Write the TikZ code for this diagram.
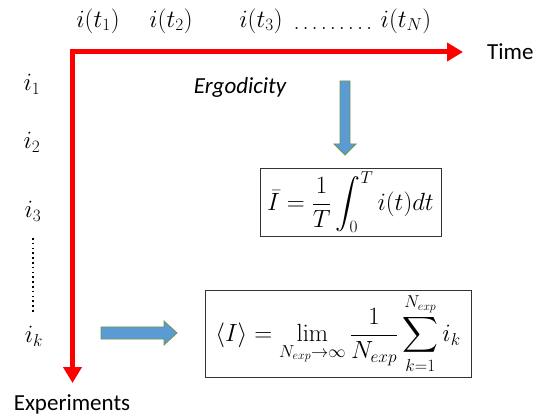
\documentclass[tikz,border=0pt]{standalone}
\usepackage{amsmath}
\usepackage[no-math]{fontspec}
\setmainfont{Carlito}
\usetikzlibrary{arrows.meta}
\begin{document}
\begin{tikzpicture}[x=1pt,y=-1pt,
  mathlbl/.style={inner sep=0pt,font=\fontsize{26}{30}\selectfont},
  txtlbl/.style={inner sep=0pt,font=\fontsize{23}{27}\selectfont},
  formbox/.style={draw=black!80,line width=0.9pt,inner sep=2pt,font=\fontsize{24}{28}\selectfont},
  axis/.style={red,line width=5pt,line join=miter,{Triangle[width=18pt,length=16pt]}-{Triangle[width=18pt,length=16pt]}},
  blockarrow/.style={fill={rgb,255:red,91;green,155;blue,213},draw={rgb,255:red,112;green,150;blue,70},line width=0.8pt,line join=miter}
]
\useasboundingbox (0,0) rectangle (535,419);
% axes
\coordinate (origin) at (72.5,52);
\coordinate (tend) at (463,52);
\coordinate (eend) at (72.5,383);
\draw[axis] (eend) -- (origin) -- (tend);
\node[txtlbl,anchor=west] (time) at (487,52) {Time};
\node[txtlbl] (exp) at (72,404) {Experiments};
% top labels
\node[mathlbl] (t1) at (98,21) {$i(t_1)$};
\node[mathlbl] (t2) at (171,21) {$i(t_2)$};
\node[mathlbl] (t3) at (261,21) {$i(t_3)$};
\node[mathlbl,font=\fontsize{20}{24}\selectfont,anchor=base] (tdots) at (333,30) {$\ldots\ldots\ldots$};
\node[mathlbl] (tN) at (406,21) {$i(t_N)$};
% left labels
\node[mathlbl] (i1) at (32,84) {$i_1$};
\node[mathlbl] (i2) at (32,142) {$i_2$};
\node[mathlbl] (i3) at (33,211) {$i_3$};
\coordinate (dtop) at (33,238);
\coordinate (dbot) at (33,313);
\draw[line width=1.6pt,dash pattern=on 1.6pt off 3.2pt,line cap=butt] (dtop) -- (dbot);
\node[mathlbl] (ik) at (34,336) {$i_k$};
% ergodicity
\node[txtlbl,font=\fontsize{23}{27}\selectfont\itshape] (erg) at (240,87) {Ergodicity};
% formula boxes
\node[formbox,minimum width=181pt,minimum height=68pt] (box1) at (350.5,202)
  {$\displaystyle \bar{I} = \frac{1}{T}\int_0^T i(t)dt$};
\node[formbox,minimum width=266pt,minimum height=87pt] (box2) at (338,333.5)
  {$\displaystyle \langle I\rangle = \lim_{N_{exp}\to\infty}\frac{1}{N_{exp}}\sum_{k=1}^{N_{exp}} i_k$};
% block arrows
\coordinate (dtip) at (345,155);
\draw[blockarrow] (340,81) -- (350,81) -- (350,144) -- (356,144) -- (dtip) -- (334,144) -- (340,144) -- cycle;
\coordinate (rtip) at (177,333);
\draw[blockarrow] (101,327) -- (164,327) -- (164,321) -- (rtip) -- (164,345) -- (164,339) -- (101,339) -- cycle;
\end{tikzpicture}
\end{document}
